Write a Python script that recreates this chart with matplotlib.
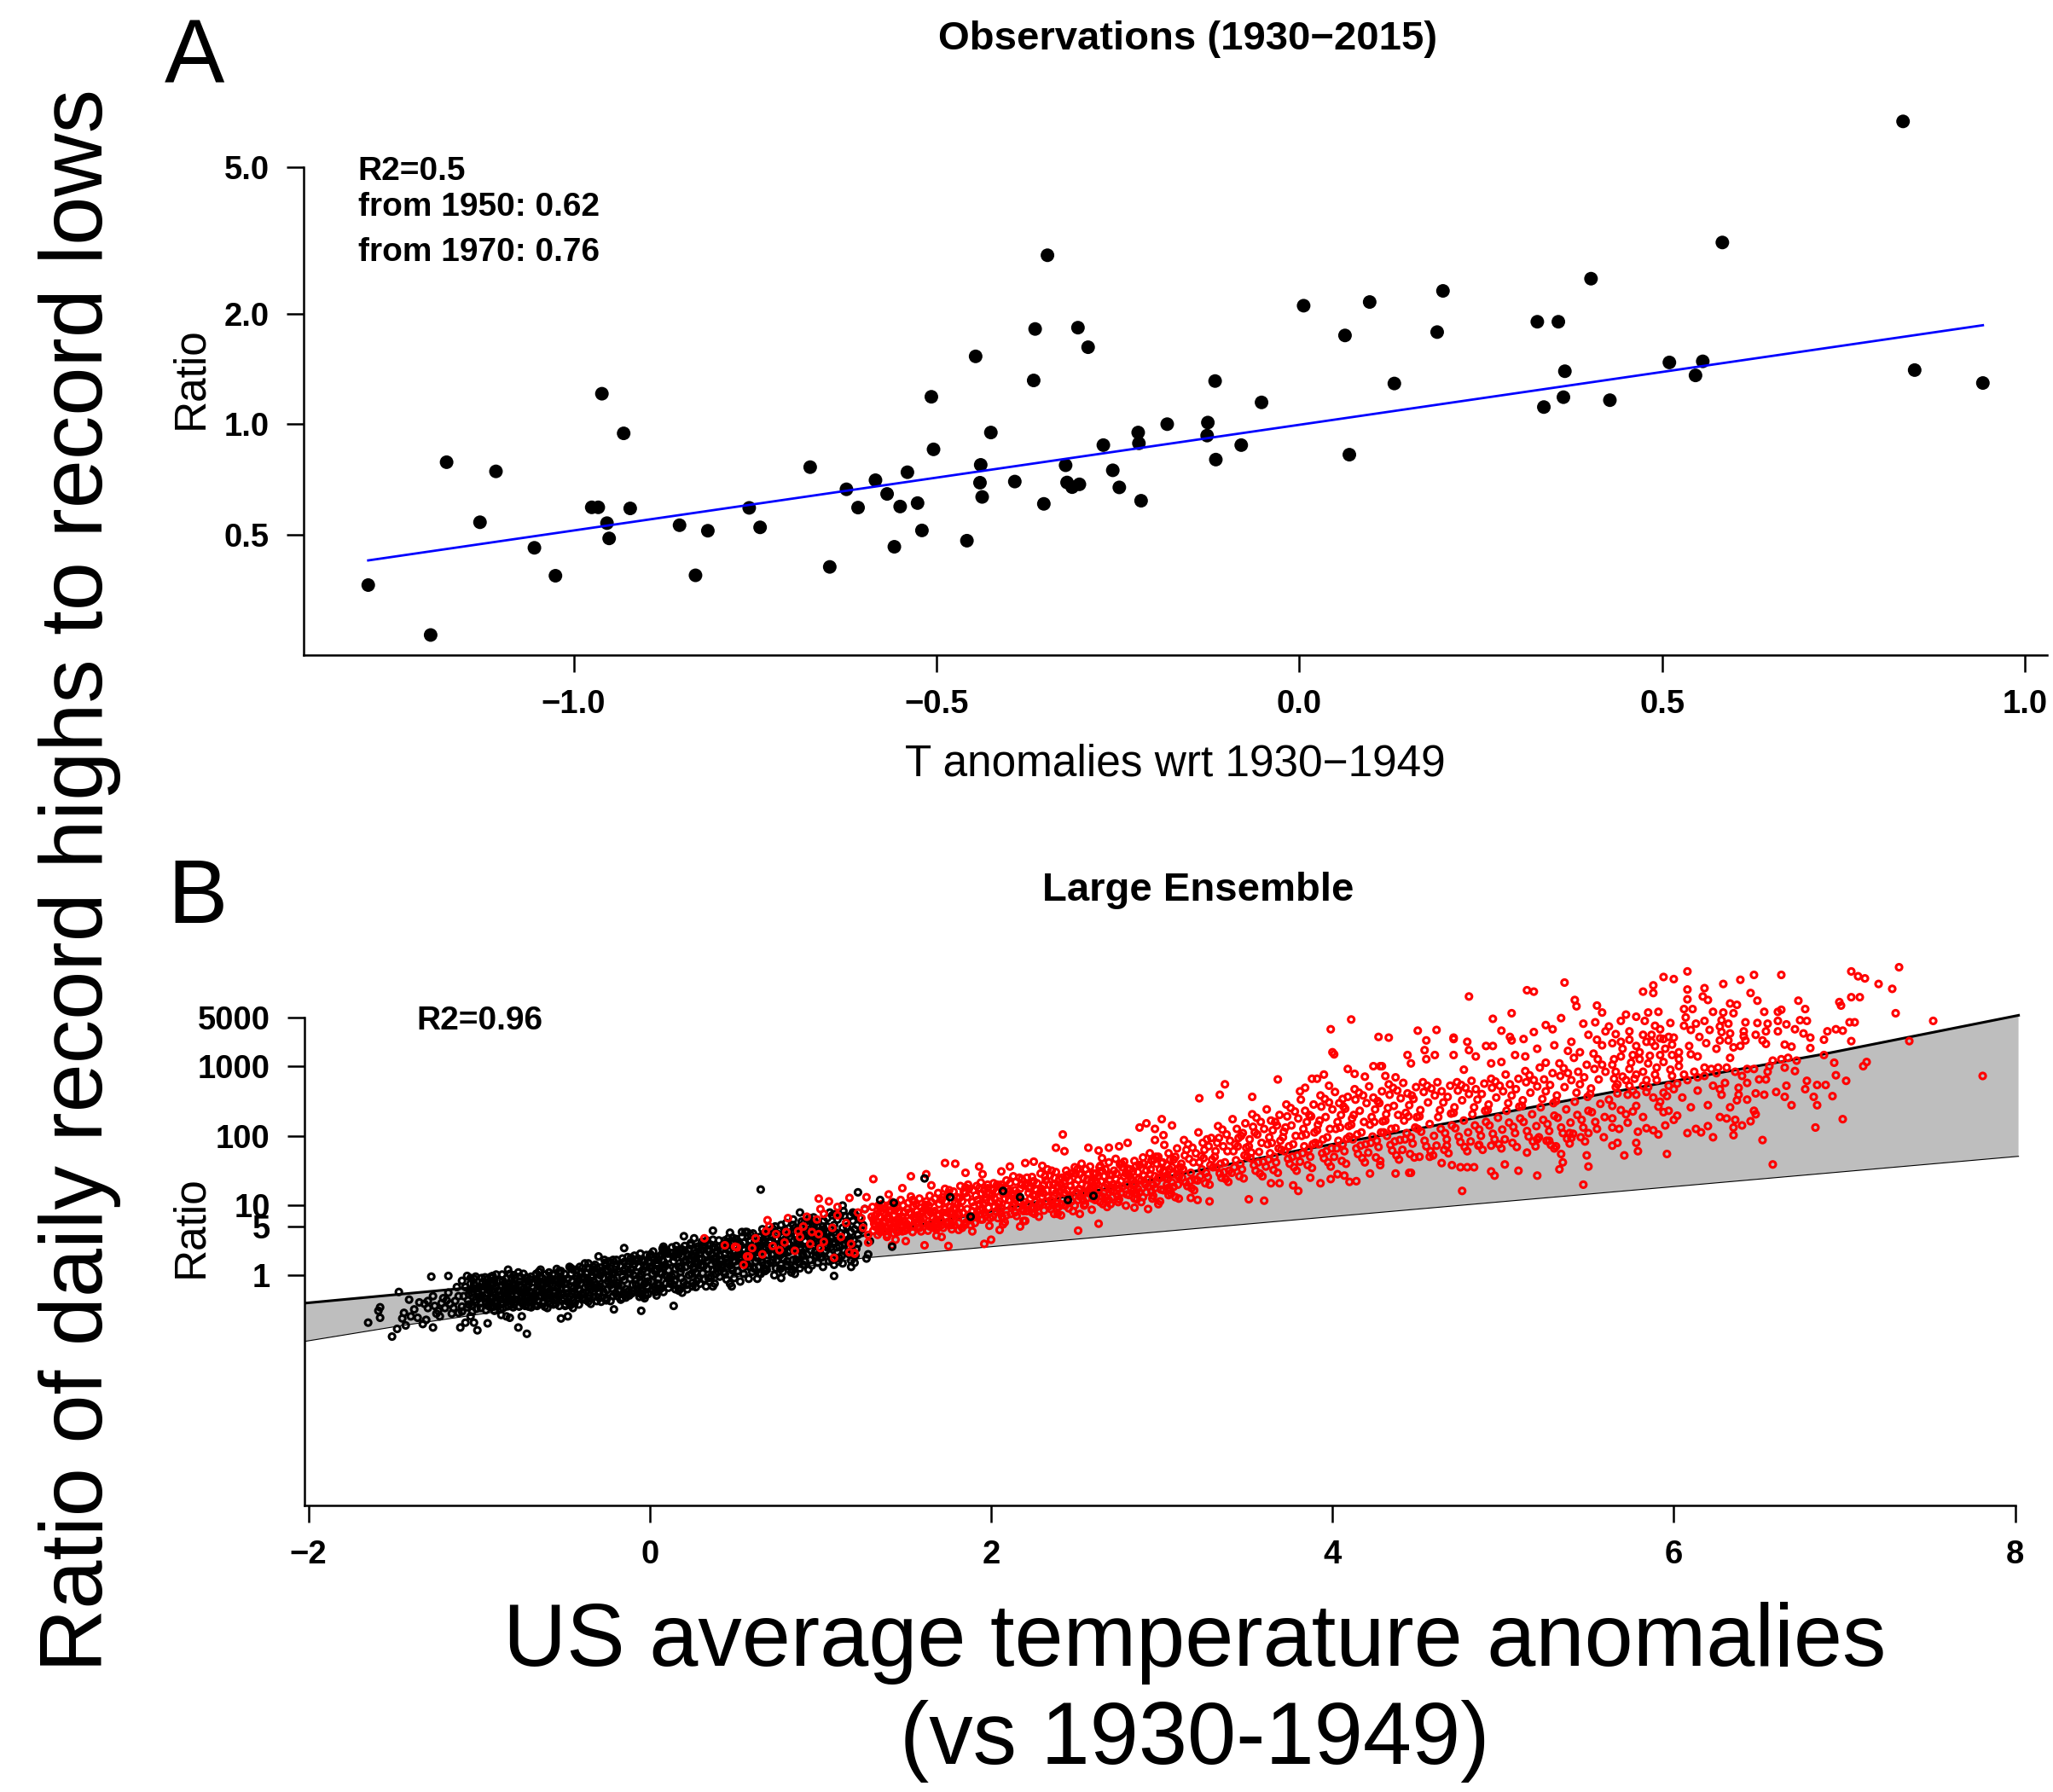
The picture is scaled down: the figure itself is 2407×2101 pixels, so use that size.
import numpy as np
import matplotlib
matplotlib.use("Agg")
import matplotlib.pyplot as plt
from matplotlib.ticker import NullLocator

plt.rcParams['font.family'] = ['Liberation Sans', 'DejaVu Sans']

W, H, DPI = 2407, 2101, 100

# ======================= Panel A : observations =======================
obs_anomaly = [-1.283, -1.197, -1.175, -1.107, -1.129, -1.054, -1.025, -0.961, -0.931, -0.975,
               -0.966, -0.954, -0.951, -0.922, -0.854, -0.815, -0.832, -0.758, -0.743, -0.674,
               -0.647, -0.624, -0.608, -0.584, -0.568, -0.550, -0.558, -0.540, -0.526, -0.520,
               -0.507, -0.504, -0.458, -0.446, -0.439, -0.440, -0.437, -0.425, -0.392, -0.366,
               -0.364, -0.347, -0.352, -0.322, -0.320, -0.313, -0.303, -0.305, -0.291, -0.270,
               -0.257, -0.248, -0.222, -0.221, -0.218, -0.182, -0.126, -0.127, -0.116, -0.115,
               -0.080, -0.052, 0.006, 0.063, 0.069, 0.097, 0.131, 0.198, 0.190, 0.328,
               0.357, 0.337, 0.364, 0.366, 0.402, 0.428, 0.510, 0.556, 0.546, 0.583,
               0.832, 0.848, 0.942]
obs_ratio = [0.365, 0.267, 0.788, 0.744, 0.541, 0.461, 0.387, 1.21, 0.944, 0.594,
             0.594, 0.538, 0.489, 0.590, 0.531, 0.513, 0.388, 0.592, 0.524, 0.764,
             0.409, 0.665, 0.593, 0.704, 0.646, 0.597, 0.464, 0.740, 0.610, 0.514,
             1.187, 0.854, 0.482, 1.529, 0.775, 0.693, 0.634, 0.949, 0.698, 1.315,
             1.815, 2.88, 0.607, 0.773, 0.694, 0.674, 0.686, 1.83, 1.619, 0.877,
             0.749, 0.673, 0.949, 0.887, 0.619, 1.0, 1.01, 0.931, 1.31, 0.801,
             0.877, 1.146, 2.10, 1.743, 0.826, 2.149, 1.29, 2.304, 1.78, 1.899,
             1.899, 1.113, 1.184, 1.393, 2.487, 1.162, 1.472, 1.482, 1.357, 3.12,
             6.66, 1.403, 1.294]
obs_fit_anomaly = [-1.283, 0.942]
obs_fit_ratio = [0.426, 1.858]
obs_xticks = [-1.0, -0.5, 0.0, 0.5, 1.0]
obs_xticklabels = ["\u22121.0", "\u22120.5", "0.0", "0.5", "1.0"]
obs_yticks = [0.5, 1.0, 2.0, 5.0]
obs_yticklabels = ["0.5", "1.0", "2.0", "5.0"]

# ======================= Panel B : large ensemble =======================
band_upper_anomaly = [-2.02, -1.06, 0.0, 1.0, 2.0, 3.0, 3.82, 4.54, 5.62, 6.87, 8.02]
band_upper_ratio = [0.398, 0.661, 1.26, 2.82, 8.32, 25.1, 63.1, 132, 417, 1479, 5370]
band_lower_anomaly = [-2.02, -1.48, 1.25, 3.07, 5.62, 8.02]
band_lower_ratio = [0.1125, 0.185, 1.762, 4.385, 15.5, 50.9]
ens_xticks = [-2, 0, 2, 4, 6, 8]
ens_xticklabels = ["\u22122", "0", "2", "4", "6", "8"]
ens_yticks = [1, 5, 10, 100, 1000, 5000]
ens_yticklabels = ["1", "5", "10", "100", "1000", "5000"]

# (temperature anomaly, log10 of ratio)
hist_points = [
    (-1.65,-0.68),(-1.58,-0.46),(-1.58,-0.61),(-1.59,-0.51),(-1.51,-0.88),(-1.48,-0.77),(-1.47,-0.24),
    (-1.45,-0.62),(-1.44,-0.54),(-1.43,-0.72),(-1.41,-0.35),(-1.40,-0.59),(-1.38,-0.49),(-1.36,-0.61),
    (-1.35,-0.39),(-1.33,-0.70),(-1.32,-0.41),(-1.31,-0.64),(-1.30,-0.37),(-1.28,-0.02),(-1.27,-0.75),
    (-1.26,-0.44),(-1.24,-0.51),(-1.23,-0.59),(-1.21,-0.33),(-1.20,-0.47),(-1.18,-0.01),(-1.17,-0.41),
    (-1.16,-0.55),(-1.14,-0.37),(-1.13,-0.17),(-1.12,-0.54),(-1.11,-0.75),(-1.10,-0.45),(-1.08,-0.68),
    (-1.07,-0.01),(-1.05,-0.12),(-1.05,-0.59),(-1.03,-0.68),(-1.02,-0.02),(-1.01,-0.79),(-0.95,-0.69),
    (-0.93,-0.02),(-0.91,-0.51),(-0.90,0.01),(-0.87,-0.57),(-0.86,-0.08),(-0.84,-0.59),(-0.83,0.08),
    (-0.82,-0.61),(-0.77,-0.75),(-0.75,-0.59),(-0.74,0.02),(-0.72,-0.84),(-0.64,0.08),(-0.60,-0.47),
    (-0.53,0.06),(-0.52,-0.62),(-0.48,-0.59),(-0.47,0.12),(-0.45,-0.47),(-0.38,0.17),(-0.30,0.27),
    (-0.21,-0.49),(-0.15,0.39),(-0.05,-0.51),(0.08,0.41),(0.14,-0.44),(0.20,0.56),(0.26,0.53),
    (0.37,0.64),(0.48,-0.16),(0.47,0.61),
    (-1.22,-0.40),(-1.19,-0.36),(-1.15,-0.47),(-1.12,-0.30),(-1.18,-0.25),(-1.10,-0.52),(-1.25,-0.55),
    (-1.30,-0.47),(-1.27,-0.30),
    (0.65,1.23),(0.77,-0.04),(0.85,0.02),(1.08,-0.01),(1.18,0.12),(1.20,0.18),(1.22,1.19),(1.13,1.00),
    (0.88,0.90),(1.42,0.41),(1.35,1.08),(1.43,1.04),(1.61,1.39),(1.76,1.12),(1.88,0.84),(2.07,1.21),
    (2.17,1.12),(2.45,1.08),(2.60,1.14),
    (-1.09,-0.30),(-1.03,-0.12),(-1.07,-0.46),(-1.01,-0.23),(-1.05,-0.04),(-1.08,-0.17),(-1.02,-0.39),
    (-1.06,-0.27),(-1.04,-0.52),(-1.00,-0.33),(-1.10,-0.08),(-1.035,-0.19),(-1.065,-0.36),
    (-0.98,-0.21),(-0.94,-0.41),(-0.91,-0.07),(-0.97,-0.33),(-0.93,-0.14),(-0.99,-0.47),(-0.95,-0.26),
    (-0.92,-0.01),(-0.96,-0.11),(-0.90,-0.37),(-0.985,-0.29),(-0.945,-0.18),(-0.915,-0.45),
    (-0.88,-0.35),(-0.84,-0.05),(-0.81,-0.27),(-0.87,-0.15),(-0.83,-0.44),(-0.89,-0.22),(-0.85,-0.31),
    (-0.82,0.02),(-0.86,-0.40),(-0.80,-0.12),(-0.875,-0.49),(-0.835,-0.19),(-0.805,-0.36),
    (-0.79,-0.14),(-0.75,-0.38),(-0.72,-0.03),(-0.78,-0.28),(-0.74,-0.20),(-0.71,-0.45),(-0.77,0.04),
    (-0.73,-0.33),(-0.76,-0.09),(-0.70,-0.24),(-0.795,-0.42),(-0.755,-0.17),(-0.715,-0.30),
    (-0.69,-0.25),(-0.65,0.05),(-0.62,-0.38),(-0.68,-0.10),(-0.64,-0.30),(-0.61,-0.18),(-0.67,-0.43),
    (-0.63,-0.04),(-0.66,-0.21),(-0.60,-0.34),(-0.695,-0.02),(-0.655,-0.14),(-0.615,-0.45),
    (-0.59,-0.08),(-0.55,-0.32),(-0.52,0.06),(-0.58,-0.40),(-0.54,-0.17),(-0.51,-0.26),(-0.57,0.01),
    (-0.53,-0.44),(-0.56,-0.22),(-0.50,-0.12),(-0.595,-0.29),(-0.545,0.09),(-0.515,-0.36),
    (-0.49,-0.19),(-0.45,0.08),(-0.42,-0.33),(-0.48,-0.05),(-0.44,-0.25),(-0.41,0.12),(-0.47,-0.39),
    (-0.43,-0.13),(-0.46,0.02),(-0.40,-0.28),(-0.495,-0.42),(-0.455,-0.09),(-0.415,-0.20),
    (-0.39,-0.02),(-0.35,-0.29),(-0.32,0.15),(-0.38,-0.18),(-0.34,0.06),(-0.31,-0.37),(-0.37,-0.10),
    (-0.33,-0.23),(-0.36,0.17),(-0.30,-0.05),(-0.395,-0.33),(-0.355,0.10),(-0.315,-0.14),(-0.345,-0.41),
    (-0.29,0.11),(-0.25,-0.21),(-0.22,0.02),(-0.28,-0.32),(-0.24,0.20),(-0.21,-0.12),(-0.27,-0.04),
    (-0.23,-0.37),(-0.26,0.15),(-0.20,-0.26),(-0.295,-0.16),(-0.255,0.06),(-0.215,0.22),(-0.245,-0.09),
    (-0.19,-0.11),(-0.15,0.19),(-0.12,-0.29),(-0.18,0.05),(-0.14,-0.20),(-0.11,0.25),(-0.17,-0.35),
    (-0.13,0.12),(-0.16,-0.02),(-0.10,-0.14),(-0.195,0.22),(-0.155,-0.26),(-0.115,0.03),(-0.145,0.09),
    (-0.09,0.16),(-0.05,-0.18),(-0.02,0.29),(-0.08,-0.06),(-0.04,0.08),(-0.01,-0.27),(-0.07,0.24),
    (-0.03,-0.12),(-0.06,-0.31),(0.00,0.12),(-0.095,0.00),(-0.055,0.31),(-0.015,-0.03),(-0.045,-0.22),
    (0.01,-0.09),(0.05,0.22),(0.08,-0.24),(0.02,0.34),(0.06,0.04),(0.09,0.15),(0.03,-0.17),
    (0.07,0.30),(0.04,-0.29),(0.10,-0.02),(0.005,0.10),(0.045,-0.12),(0.085,0.36),(0.055,0.27),
    (0.11,0.07),(0.15,-0.20),(0.18,0.36),(0.12,-0.08),(0.16,0.25),(0.19,-0.25),(0.13,0.40),
    (0.17,0.12),(0.14,-0.14),(0.20,0.19),(0.105,0.31),(0.145,0.01),(0.185,-0.04),(0.155,0.42),
    (0.21,0.22),(0.25,-0.11),(0.28,0.41),(0.22,-0.20),(0.26,0.09),(0.29,0.31),(0.23,0.00),
    (0.27,-0.17),(0.24,0.46),(0.30,0.14),(0.205,0.35),(0.245,0.28),(0.285,-0.05),(0.265,0.19),
    (0.31,0.03),(0.35,0.36),(0.38,-0.12),(0.32,0.47),(0.36,0.15),(0.39,0.26),(0.33,-0.16),
    (0.37,0.51),(0.34,0.09),(0.40,0.40),(0.305,0.24),(0.345,-0.04),(0.385,0.19),(0.365,0.31),
    (0.41,0.29),(0.45,-0.06),(0.48,0.45),(0.42,0.11),(0.46,0.53),(0.49,0.20),(0.43,0.38),
    (0.47,-0.12),(0.44,0.02),(0.50,0.33),(0.405,0.50),(0.445,0.24),(0.485,0.07),(0.465,0.43),
    (0.51,0.14),(0.55,0.47),(0.58,-0.05),(0.52,0.36),(0.56,0.21),(0.59,0.58),(0.53,-0.09),
    (0.57,0.30),(0.54,0.62),(0.60,0.05),(0.505,0.52),(0.545,0.10),(0.585,0.41),(0.565,0.26),
    (0.61,0.40),(0.65,0.02),(0.68,0.55),(0.62,0.20),(0.66,0.66),(0.69,0.29),(0.63,-0.05),
    (0.67,0.46),(0.64,0.12),(0.70,0.36),(0.605,0.60),(0.645,0.33),(0.685,0.08),(0.665,0.51),
    (0.71,0.18),(0.75,0.52),(0.78,0.05),(0.72,0.67),(0.76,0.28),(0.79,0.42),(0.73,0.00),
    (0.77,0.72),(0.74,0.36),(0.80,0.13),(0.705,0.47),(0.745,0.60),(0.785,0.24),(0.765,0.09),
    (0.81,0.33),(0.85,0.68),(0.88,0.10),(0.82,0.55),(0.86,0.22),(0.89,0.77),(0.83,0.04),
    (0.87,0.45),(0.84,0.80),(0.90,0.28),(0.805,0.15),(0.845,0.39),(0.885,0.60),(0.865,0.50),
    (0.91,0.49),(0.95,0.14),(0.98,0.70),(0.92,0.30),(0.96,0.83),(0.99,0.40),(0.93,0.08),
    (0.97,0.58),(0.94,0.22),(1.00,0.64),(0.905,0.75),(0.945,0.36),(0.985,0.18),(0.965,0.52),
    (1.01,0.26),(1.05,0.61),(1.08,0.15),(1.02,0.78),(1.06,0.40),(1.09,0.88),(1.03,0.52),
    (1.07,0.22),(1.04,0.70),(1.10,0.33),(1.015,0.12),(1.055,0.90),(1.085,0.47),
    (1.11,0.42),(1.15,0.75),(1.18,0.21),(1.12,0.60),(1.16,0.32),(1.19,0.90),(1.13,0.17),
    (1.17,0.52),(1.14,0.85),(1.20,0.66),(1.125,0.28),
    (1.21,0.38),(1.25,0.72),(1.28,0.30),(1.22,0.58),(1.26,0.95),(1.29,0.49),(1.23,0.83),(1.27,0.24),
    # inner part of the dense core
    (-0.97,-0.16),(-0.93,-0.30),(-0.99,-0.40),(-0.95,-0.06),(-0.91,-0.24),(-0.96,-0.50),
    (-0.87,-0.28),(-0.83,-0.12),(-0.89,-0.45),(-0.85,-0.20),(-0.81,-0.04),(-0.84,-0.38),
    (-0.77,-0.22),(-0.73,-0.44),(-0.79,-0.04),(-0.75,-0.31),(-0.71,-0.13),(-0.76,-0.37),
    (-0.67,-0.32),(-0.63,-0.12),(-0.69,-0.39),(-0.65,-0.24),(-0.61,0.01),(-0.66,-0.07),
    (-0.57,-0.15),(-0.53,-0.30),(-0.59,0.04),(-0.55,-0.41),(-0.51,-0.05),(-0.56,-0.26),
    (-0.47,-0.30),(-0.43,-0.02),(-0.49,-0.12),(-0.45,-0.36),(-0.41,-0.22),(-0.46,0.10),
    (-0.37,0.02),(-0.33,-0.31),(-0.39,-0.25),(-0.35,-0.08),(-0.31,0.10),(-0.36,-0.38),
    (-0.27,-0.24),(-0.23,0.10),(-0.29,0.00),(-0.25,-0.33),(-0.21,-0.06),(-0.26,0.18),
    (-0.17,0.14),(-0.13,-0.24),(-0.19,-0.30),(-0.15,-0.07),(-0.11,0.08),(-0.16,0.24),
    (-0.07,-0.20),(-0.03,0.20),(-0.09,0.28),(-0.05,0.02),(-0.01,-0.09),(-0.06,-0.26),
    (0.03,0.06),(0.07,-0.18),(0.01,0.25),(0.05,-0.05),(0.09,0.32),(0.04,0.17),
    (0.13,-0.02),(0.17,0.30),(0.11,-0.18),(0.15,0.09),(0.19,0.37),(0.14,0.20),
    (0.23,0.38),(0.27,0.04),(0.21,0.12),(0.25,-0.16),(0.29,0.24),(0.24,0.43),
    (0.33,0.30),(0.37,0.08),(0.31,0.42),(0.35,-0.09),(0.39,0.34),(0.34,0.21),
    (0.43,0.15),(0.47,0.38),(0.41,-0.02),(0.45,0.47),(0.49,0.27),(0.44,0.31),
    (0.53,0.44),(0.57,0.16),(0.51,0.28),(0.55,0.02),(0.59,0.50),(0.54,0.55),
    (0.63,0.25),(0.67,0.60),(0.61,0.10),(0.65,0.42),(0.69,0.16),(0.64,0.48),
    (0.73,0.40),(0.77,0.15),(0.71,0.58),(0.75,0.32),(0.79,0.65),(0.74,0.10),
    (0.83,0.62),(0.87,0.28),(0.81,0.45),(0.85,0.12),(0.89,0.55),(0.84,0.72),
    (0.93,0.42),(0.97,0.76),(0.91,0.20),(0.95,0.55),(0.99,0.30),(0.94,0.66),
    (1.03,0.35),(1.07,0.68),(1.01,0.48),(1.05,0.20),(1.09,0.58),(1.04,0.82),
    (1.13,0.68),(1.17,0.40),(1.11,0.25),(1.15,0.58),(1.19,0.78),(1.14,0.46),
    (-1.02,-0.35),(-0.98,-0.10),(-1.00,-0.18),(-0.96,-0.38),(-1.04,-0.44),
    (-0.92,-0.33),(-0.88,-0.08),(-0.90,-0.17),(-0.86,-0.47),(-0.94,-0.22),
    (-0.82,-0.23),(-0.78,-0.35),(-0.80,-0.46),(-0.76,-0.02),(-0.84,-0.27),
    (-0.72,-0.17),(-0.68,-0.34),(-0.70,-0.06),(-0.66,-0.44),(-0.74,-0.26),
    (-0.62,-0.27),(-0.58,-0.05),(-0.60,-0.20),(-0.56,-0.36),(-0.64,-0.14),
    (-0.52,-0.20),(-0.48,-0.38),(-0.50,0.02),(-0.46,-0.16),(-0.54,-0.09),
    (-0.42,-0.08),(-0.38,-0.35),(-0.40,0.05),(-0.36,-0.16),(-0.44,-0.40),
    (-0.32,-0.18),(-0.28,0.06),(-0.30,-0.32),(-0.26,-0.12),(-0.34,0.00),
    (-0.22,-0.19),(-0.18,-0.22),(-0.20,0.12),(-0.16,-0.33),(-0.24,-0.02),
    (-0.12,0.04),(-0.08,-0.13),(-0.10,0.20),(-0.06,-0.02),(-0.14,-0.32),
    (-0.02,0.12),(0.02,-0.21),(0.00,0.28),(0.04,0.09),(-0.04,-0.30),
    (0.08,0.20),(0.12,-0.12),(0.10,0.35),(0.14,0.27),(0.06,-0.20),
    (0.18,0.05),(0.22,0.30),(0.20,-0.10),(0.24,0.15),(0.16,0.36),
    (0.28,0.18),(0.32,-0.06),(0.30,0.37),(0.34,0.45),(0.26,0.28),
    (0.38,0.40),(0.42,0.22),(0.40,0.05),(0.44,0.50),(0.36,-0.02),
    (0.48,0.10),(0.52,0.48),(0.50,0.20),(0.54,0.30),(0.46,0.36),
    (0.58,0.35),(0.62,0.54),(0.60,0.26),(0.64,0.03),(0.56,0.62),
    (0.68,0.40),(0.72,0.22),(0.70,0.62),(0.74,0.52),(0.66,0.18),
    (0.78,0.55),(0.82,0.35),(0.80,0.75),(0.84,0.22),(0.76,0.42),
    (0.88,0.40),(0.92,0.62),(0.90,0.15),(0.94,0.78),(0.86,0.58),
    (0.98,0.50),(1.02,0.66),(1.00,0.25),(1.04,0.40),(0.96,0.70),
    (1.08,0.72),(1.12,0.50),(1.10,0.80),(1.14,0.35),(1.06,0.55),
    (1.18,0.62),(1.22,0.45),(1.20,0.88),(1.24,0.65),(1.16,0.48),
    (-1.045,-0.25),(-1.015,-0.48),(-0.985,-0.04),(-1.025,-0.15),(-0.995,-0.31),
    (-0.945,-0.44),(-0.915,-0.12),(-0.885,-0.30),(-0.925,-0.04),(-0.895,-0.40),
    (-0.845,-0.14),(-0.815,-0.42),(-0.785,-0.18),(-0.825,-0.33),(-0.795,0.00),
    (-0.745,-0.41),(-0.715,-0.08),(-0.685,-0.29),(-0.725,-0.22),(-0.695,-0.46),
    (-0.645,-0.02),(-0.615,-0.31),(-0.585,-0.12),(-0.625,-0.40),(-0.595,-0.24),
    (-0.545,-0.34),(-0.515,-0.10),(-0.485,-0.26),(-0.525,0.03),(-0.495,-0.44),
    (-0.445,-0.18),(-0.415,-0.42),(-0.385,-0.06),(-0.425,-0.28),(-0.395,0.10),
    (-0.345,-0.20),(-0.315,0.03),(-0.285,-0.38),(-0.325,-0.10),(-0.295,-0.24),
    (-0.245,0.08),(-0.215,-0.30),(-0.185,-0.15),(-0.225,-0.04),(-0.195,0.16),
    (-0.145,-0.28),(-0.115,-0.05),(-0.085,0.22),(-0.125,0.16),(-0.095,-0.22),
    (-0.045,0.22),(-0.015,-0.16),(0.015,0.02),(-0.025,-0.28),(0.005,0.30),
    (0.055,-0.14),(0.085,0.12),(0.115,-0.04),(0.075,0.38),(0.105,0.24),
    (0.155,0.32),(0.185,0.10),(0.215,-0.14),(0.175,-0.20),(0.205,0.42),
    (0.255,0.12),(0.285,0.38),(0.315,0.13),(0.275,-0.08),(0.305,0.48),
    (0.355,0.44),(0.385,0.02),(0.415,0.36),(0.375,0.24),(0.405,0.16),
    (0.455,0.18),(0.485,0.54),(0.515,0.06),(0.475,0.28),(0.505,0.40),
    (0.555,0.36),(0.585,0.12),(0.615,0.48),(0.575,0.56),(0.605,0.30),
    (0.655,0.22),(0.685,0.64),(0.715,0.30),(0.675,0.06),(0.705,0.50),
    (0.755,0.64),(0.785,0.34),(0.815,0.60),(0.775,0.46),(0.805,0.20),
    (0.855,0.36),(0.885,0.70),(0.915,0.40),(0.875,0.18),(0.905,0.58),
    (0.955,0.74),(0.985,0.46),(1.015,0.70),(0.975,0.28),(1.005,0.55),
    (1.055,0.30),(1.085,0.62),(1.115,0.86),(1.075,0.45),(1.105,0.20),
    (1.155,0.70),(1.185,0.36),(1.215,0.72),(1.175,0.85),(1.205,0.28),
    (-1.055,-0.21),(-1.005,-0.27),(-1.03,-0.05),(-1.06,-0.42),
    (-0.955,-0.17),(-0.905,-0.28),(-0.93,-0.46),(-0.965,-0.03),
    (-0.855,-0.24),(-0.805,-0.20),(-0.83,-0.36),(-0.865,0.01),
    (-0.755,-0.25),(-0.705,-0.36),(-0.73,-0.10),(-0.765,-0.45),
    (-0.655,-0.37),(-0.605,-0.10),(-0.63,-0.22),(-0.665,0.02),
    (-0.555,-0.06),(-0.505,-0.33),(-0.53,-0.12),(-0.565,-0.42),
    (-0.455,-0.27),(-0.405,-0.12),(-0.43,0.08),(-0.465,-0.43),
    (-0.355,-0.33),(-0.305,-0.18),(-0.33,0.12),(-0.365,-0.05),
    (-0.255,-0.36),(-0.205,0.04),(-0.23,-0.14),(-0.265,0.22),
    (-0.155,0.06),(-0.105,-0.26),(-0.13,0.26),(-0.165,-0.15),
    (-0.055,-0.10),(-0.005,0.20),(-0.03,-0.33),(-0.065,0.12),
    (0.045,0.14),(0.095,-0.12),(0.07,0.02),(0.035,-0.24),
    (0.145,-0.08),(0.195,0.26),(0.17,-0.22),(0.135,0.32),
    (0.245,0.02),(0.295,-0.12),(0.27,0.32),(0.235,0.24),
    (0.345,0.34),(0.395,0.10),(0.37,-0.16),(0.335,0.50),
    (0.445,0.44),(0.495,-0.04),(0.47,0.14),(0.435,0.05),
    (0.545,0.18),(0.595,0.40),(0.57,0.62),(0.535,0.26),
    (0.645,0.55),(0.695,0.42),(0.67,0.10),(0.635,0.38),
    (0.745,0.22),(0.795,0.52),(0.77,0.30),(0.735,0.70),
    (0.845,0.50),(0.895,0.30),(0.87,0.64),(0.835,0.08),
    (0.945,0.50),(0.995,0.62),(0.97,0.34),(0.935,0.82),
    (1.045,0.50),(1.095,0.40),(1.07,0.86),(1.035,0.62),
    (1.145,0.58),(1.195,0.50),(1.17,0.30),(1.135,0.92),
]

fut_points = [
    # mixing zone
    (0.62,0.53),(0.58,0.27),(0.74,0.59),(0.81,0.82),(0.92,0.84),(0.87,0.63),(0.99,0.59),(1.02,0.88),
    (1.10,0.86),(1.07,0.68),(1.17,0.33),(1.25,0.68),(1.22,0.90),(0.94,0.45),(0.79,0.47),(0.68,0.63),
    (0.60,0.39),(0.55,0.15),(1.28,0.47),(1.30,0.84),(1.35,0.72),(1.39,0.55),(1.45,0.80),
    (0.32,0.53),(0.50,0.41),(0.44,0.43),(0.57,0.27),(0.51,0.40),
    (0.66,0.30),(0.72,0.42),(0.85,0.35),(0.95,0.62),(1.02,0.48),(1.12,0.55),(0.90,0.70),(1.15,0.75),
    (1.08,0.25),(0.80,0.62),(0.70,0.70),(0.98,0.80),(1.18,0.45),(1.24,0.82),(1.28,0.58),(1.10,0.98),
    (1.00,0.95),(1.26,0.95),(0.88,0.55),(0.76,0.36),
    # upper outliers (x 0.7 - 3.1)
    (0.69,0.79),(0.99,1.10),(1.05,1.06),(1.17,1.11),(1.27,1.12),(1.31,1.38),(1.40,1.16),(1.48,1.25),
    (1.53,1.42),(1.62,1.45),(1.65,1.29),(1.73,1.61),(1.79,1.60),(1.85,1.47),(1.93,1.56),(1.95,1.45),
    (2.06,1.49),(2.11,1.56),(2.20,1.61),(2.25,1.63),(2.30,1.57),(2.38,1.83),(2.42,2.02),(2.43,1.78),
    (2.57,1.83),(2.63,1.79),(2.65,1.68),(2.69,1.83),(2.75,1.85),(2.80,1.90),(2.87,2.12),(2.91,2.18),
    (2.96,2.10),(3.00,2.24),(3.01,2.01),(2.96,1.94),(3.06,2.15),
    # lower outliers (x 1.0 - 3.0)
    (1.20,0.31),(1.42,0.43),(1.61,0.43),(1.75,0.42),(1.68,0.57),(1.71,0.55),(1.96,0.45),(2.00,0.51),
    (1.81,0.65),(2.51,0.64),(2.63,0.74),(2.20,0.78),(2.37,0.88),(2.41,0.86),(2.52,0.88),(2.84,0.97),
    (2.92,0.95),(2.70,1.02),(2.98,1.02),(2.17,0.70),(2.05,0.65),(1.89,0.63),(1.50,0.49),(1.44,0.51),
    (1.00,0.39),(1.20,0.32),
    # dense band x 1.3 - 3.1
    (1.31,0.80),(1.35,0.62),(1.38,0.95),(1.32,0.70),(1.36,1.02),(1.39,0.58),(1.33,0.88),(1.37,0.75),
    (1.34,0.66),(1.40,0.92),(1.305,0.98),(1.345,0.84),(1.385,0.69),
    (1.41,0.72),(1.45,0.97),(1.48,0.63),(1.42,1.05),(1.46,0.81),(1.49,0.90),(1.43,0.60),(1.47,1.08),
    (1.44,0.77),(1.50,0.68),(1.415,0.93),(1.455,0.66),(1.485,1.00),
    (1.51,0.95),(1.55,0.70),(1.58,1.10),(1.52,0.78),(1.56,1.02),(1.59,0.63),(1.53,1.13),(1.57,0.86),
    (1.54,0.62),(1.60,0.92),(1.505,0.74),(1.545,0.99),(1.585,0.81),
    (1.61,0.74),(1.65,1.05),(1.68,0.66),(1.62,0.96),(1.66,0.82),(1.69,1.18),(1.63,0.64),(1.67,0.92),
    (1.64,1.14),(1.70,0.78),(1.615,1.01),(1.655,0.70),(1.695,0.87),
    (1.71,1.08),(1.75,0.77),(1.78,1.20),(1.72,0.68),(1.76,0.98),(1.79,0.85),(1.73,1.24),(1.77,0.66),
    (1.74,0.90),(1.80,1.12),(1.705,0.80),(1.745,1.15),(1.785,0.72),
    (1.81,0.88),(1.85,1.18),(1.88,0.72),(1.82,1.28),(1.86,0.95),(1.89,1.05),(1.83,0.68),(1.87,1.24),
    (1.84,0.81),(1.90,0.99),(1.815,1.11),(1.855,0.76),(1.895,1.22),
    (1.91,1.14),(1.95,0.80),(1.98,1.30),(1.92,0.92),(1.96,1.22),(1.99,0.71),(1.93,1.02),(1.97,0.86),
    (1.94,1.33),(2.00,1.07),(1.905,0.75),(1.945,1.17),(1.985,0.97),
    (2.01,0.84),(2.05,1.27),(2.08,0.76),(2.02,1.10),(2.06,0.96),(2.09,1.36),(2.03,1.20),(2.07,0.73),
    (2.04,1.03),(2.10,1.15),(2.015,1.32),(2.055,0.89),(2.095,1.00),
    (2.11,1.21),(2.15,0.85),(2.18,1.38),(2.12,0.97),(2.16,1.13),(2.19,0.78),(2.13,1.42),(2.17,1.05),
    (2.14,0.90),(2.20,1.29),(2.105,1.08),(2.145,1.34),(2.185,0.95),
    (2.21,0.92),(2.25,1.35),(2.28,0.84),(2.22,1.18),(2.26,1.05),(2.29,1.46),(2.23,1.27),(2.27,0.98),
    (2.24,1.41),(2.30,1.12),(2.215,1.02),(2.255,0.88),(2.295,1.24),
    (2.31,1.30),(2.35,0.95),(2.38,1.48),(2.32,1.06),(2.36,1.22),(2.39,0.88),(2.33,1.52),(2.37,1.14),
    (2.34,0.99),(2.40,1.38),(2.305,1.18),(2.345,1.43),(2.385,1.03),
    (2.41,1.01),(2.45,1.44),(2.48,0.92),(2.42,1.25),(2.46,1.12),(2.49,1.55),(2.43,1.35),(2.47,1.06),
    (2.44,1.50),(2.50,1.19),(2.415,1.40),(2.455,0.96),(2.495,1.30),
    (2.51,1.37),(2.55,1.02),(2.58,1.56),(2.52,1.13),(2.56,1.28),(2.59,0.94),(2.53,1.60),(2.57,1.20),
    (2.54,1.07),(2.60,1.46),(2.515,1.24),(2.555,1.52),(2.595,1.10),
    (2.61,1.08),(2.65,1.50),(2.68,0.98),(2.62,1.32),(2.66,1.18),(2.69,1.62),(2.63,1.42),(2.67,1.12),
    (2.64,1.57),(2.70,1.26),(2.615,1.46),(2.655,1.02),(2.695,1.36),
    (2.71,1.44),(2.75,1.09),(2.78,1.63),(2.72,1.20),(2.76,1.35),(2.79,1.00),(2.73,1.67),(2.77,1.27),
    (2.74,1.14),(2.80,1.53),(2.715,1.31),(2.755,1.59),(2.795,1.16),
    (2.81,1.15),(2.85,1.57),(2.88,1.05),(2.82,1.39),(2.86,1.24),(2.89,1.69),(2.83,1.49),(2.87,1.19),
    (2.84,1.64),(2.90,1.33),(2.815,1.52),(2.855,1.09),(2.895,1.43),
    (2.91,1.50),(2.95,1.14),(2.98,1.70),(2.92,1.27),(2.96,1.42),(2.99,1.06),(2.93,1.75),(2.97,1.34),
    (2.94,1.20),(3.00,1.61),(2.915,1.38),(2.955,1.66),(2.995,1.23),
    (3.01,1.22),(3.05,1.66),(3.08,1.12),(3.02,1.48),(3.06,1.33),(3.09,1.82),(3.03,1.58),(3.07,1.27),
    (3.04,1.75),(3.10,1.41),(3.015,1.87),(3.055,1.17),(3.095,1.53),(3.035,1.38),
    # inner part of dense band x 1.3 - 3.1
    (1.33,0.77),(1.37,0.90),(1.31,0.64),(1.35,0.98),(1.39,0.82),
    (1.43,0.85),(1.47,0.70),(1.41,1.00),(1.45,0.62),(1.49,0.78),
    (1.53,0.88),(1.57,0.75),(1.51,0.66),(1.55,1.06),(1.59,0.97),
    (1.63,0.86),(1.67,1.10),(1.61,0.95),(1.65,0.75),(1.69,0.69),
    (1.73,0.95),(1.77,0.83),(1.71,0.72),(1.75,1.18),(1.79,1.04),
    (1.83,1.06),(1.87,0.86),(1.81,0.75),(1.85,1.26),(1.89,0.92),
    (1.93,1.25),(1.97,1.08),(1.91,0.86),(1.95,0.96),(1.99,1.18),
    (2.03,0.92),(2.07,1.17),(2.01,1.22),(2.05,1.06),(2.09,0.86),
    (2.13,1.00),(2.17,1.24),(2.11,1.32),(2.15,1.10),(2.19,0.92),
    (2.23,1.10),(2.27,1.32),(2.21,1.40),(2.25,0.97),(2.29,1.20),
    (2.33,1.22),(2.37,1.40),(2.31,0.93),(2.35,1.08),(2.39,1.28),
    (2.43,1.18),(2.47,1.46),(2.41,1.30),(2.45,1.06),(2.49,1.00),
    (2.53,1.30),(2.57,1.45),(2.51,1.08),(2.55,1.18),(2.59,1.36),
    (2.63,1.22),(2.67,1.52),(2.61,1.36),(2.65,1.13),(2.69,1.08),
    (2.73,1.38),(2.77,1.55),(2.71,1.12),(2.75,1.24),(2.79,1.46),
    (2.83,1.30),(2.87,1.58),(2.81,1.42),(2.85,1.18),(2.89,1.12),
    (2.93,1.45),(2.97,1.60),(2.91,1.19),(2.95,1.30),(2.99,1.52),
    (3.03,1.30),(3.07,1.66),(3.01,1.50),(3.05,1.22),(3.09,1.44),
    (1.32,0.85),(1.36,0.68),(1.38,0.78),(1.34,1.00),
    (1.42,0.67),(1.46,0.92),(1.48,0.84),(1.44,1.03),
    (1.52,0.90),(1.56,0.80),(1.58,0.68),(1.54,1.08),
    (1.62,1.06),(1.66,0.90),(1.68,0.80),(1.64,0.70),
    (1.72,1.12),(1.76,0.88),(1.78,0.96),(1.74,0.74),
    (1.82,0.96),(1.86,1.12),(1.88,0.80),(1.84,1.20),
    (1.92,1.08),(1.96,0.90),(1.98,1.25),(1.94,0.80),
    (2.02,0.98),(2.06,1.30),(2.08,1.10),(2.04,0.82),
    (2.12,1.15),(2.16,0.98),(2.18,1.30),(2.14,1.22),
    (2.22,1.25),(2.26,1.15),(2.28,1.02),(2.24,0.90),
    (2.32,1.36),(2.36,1.02),(2.38,1.18),(2.34,1.30),
    (2.42,1.10),(2.46,1.36),(2.48,1.22),(2.44,1.40),
    (2.52,1.45),(2.56,1.10),(2.58,1.25),(2.54,1.40),
    (2.62,1.15),(2.66,1.42),(2.68,1.30),(2.64,1.05),
    (2.72,1.50),(2.76,1.18),(2.78,1.42),(2.74,1.30),
    (2.82,1.25),(2.86,1.48),(2.88,1.36),(2.84,1.10),
    (2.92,1.58),(2.96,1.25),(2.98,1.40),(2.94,1.65),
    (3.02,1.40),(3.06,1.55),(3.08,1.70),(3.04,1.15),
    (1.315,0.74),(1.355,0.92),(1.375,0.64),(1.335,0.58),(1.395,1.00),
    (1.405,0.82),(1.435,0.93),(1.465,0.76),(1.495,0.64),(1.425,0.70),
    (1.515,1.04),(1.535,0.70),(1.565,0.92),(1.595,0.74),(1.555,0.84),
    (1.605,0.82),(1.635,1.00),(1.665,0.68),(1.695,1.02),(1.645,0.90),
    (1.715,0.90),(1.735,1.06),(1.765,0.72),(1.795,0.95),(1.755,1.22),
    (1.805,1.02),(1.835,0.90),(1.865,1.30),(1.895,0.84),(1.845,0.72),
    (1.915,1.28),(1.935,0.94),(1.965,1.12),(1.995,0.82),(1.955,1.02),
    (2.005,1.15),(2.035,1.30),(2.065,0.84),(2.095,1.24),(2.045,0.95),
    (2.115,0.88),(2.135,1.10),(2.165,1.40),(2.195,1.05),(2.155,1.18),
    (2.205,1.32),(2.235,0.96),(2.265,1.22),(2.295,1.04),(2.245,1.15),
    (2.315,1.42),(2.335,1.12),(2.365,1.30),(2.395,0.98),(2.355,1.50),
    (2.405,1.20),(2.435,1.00),(2.465,1.28),(2.495,1.46),(2.445,1.22),
    (2.505,1.52),(2.535,1.18),(2.565,1.38),(2.595,1.25),(2.545,1.00),
    (2.605,1.28),(2.635,1.55),(2.665,1.26),(2.695,1.44),(2.645,1.35),
    (2.705,1.22),(2.735,1.46),(2.765,1.60),(2.795,1.30),(2.745,1.05),
    (2.805,1.45),(2.835,1.22),(2.865,1.38),(2.895,1.60),(2.845,1.30),
    (2.905,1.30),(2.935,1.52),(2.965,1.70),(2.995,1.40),(2.945,1.10),
    (3.005,1.62),(3.035,1.25),(3.065,1.45),(3.095,1.30),(3.045,1.52),
    # upper outliers (x 3.1 - 5.6)
    (3.22,2.54),(3.37,2.74),(3.34,2.59),(3.53,2.56),(3.68,2.81),(3.99,3.53),(4.11,3.67),(4.00,3.20),
    (4.01,3.17),(4.27,3.42),(4.33,3.41),(4.50,3.51),(4.61,3.52),(4.55,3.37),(4.71,3.41),(4.80,4.00),
    (4.79,3.35),(4.94,3.68),(5.05,3.76),(4.99,3.51),(5.14,4.09),(5.18,4.07),(5.36,4.20),(5.42,3.95),
    (5.43,3.86),(5.34,3.69),(5.25,3.59),(5.47,3.61),(5.55,3.87),(5.58,3.77),(5.54,3.63),(5.18,3.49),
    (5.29,3.53),(5.12,3.39),(5.04,3.42),(4.90,3.29),(4.94,3.29),(5.13,3.14),(4.93,3.04),(4.77,2.95),
    (4.71,3.39),(4.60,3.16),(4.54,3.23),(4.44,3.16),(4.55,3.10),(4.46,3.04),(4.28,3.00),(4.29,3.00),
    (4.24,3.00),(4.09,2.96),(4.13,2.89),(4.19,2.85),(4.31,2.86),(4.37,2.84),(3.95,2.88),(3.98,2.72),
    (3.88,2.82),(3.91,2.82),(3.84,2.69),(3.81,2.64),(4.06,2.53),(5.05,3.37),(4.84,3.14),(4.80,3.23),
    (4.71,3.16),(4.99,3.06),(5.07,3.16),
    (5.20,3.25),(5.30,3.30),(5.40,3.35),(5.50,3.45),(5.45,3.20),(5.25,3.05),(5.55,3.38),(5.38,3.22),
    (5.60,3.50),(5.58,3.30),
    # lower outliers (x 3.1 - 5.6)
    (3.10,1.10),(3.17,1.11),(3.21,1.08),(3.28,1.06),(3.51,1.09),(3.60,1.07),(3.80,1.21),(3.77,1.29),
    (3.64,1.32),(3.69,1.32),(3.93,1.32),(3.87,1.40),(3.99,1.38),(4.10,1.34),(4.14,1.35),(4.03,1.45),
    (4.07,1.43),(4.22,1.46),(4.37,1.46),(4.46,1.47),(4.76,1.21),(4.95,1.43),(4.93,1.49),(5.09,1.50),
    (5.20,1.43),(5.33,1.52),(5.47,1.30),(5.50,1.56),(5.49,1.72),(5.50,2.04),(4.83,1.55),(4.79,1.55),
    (4.75,1.55),(4.70,1.58),(4.64,1.61),(4.57,1.70),(4.51,1.70),(4.45,1.47),(4.28,1.58),(4.67,1.86),
    (5.01,1.59),(5.14,1.76),(5.27,1.93),(5.31,1.85),(5.39,2.04),(5.40,1.97),(5.30,1.82),(5.34,1.74),
    (5.35,1.62),(5.20,1.95),(4.93,1.86),(4.86,1.87),
    # dense band x 3.1 - 5.6
    (3.11,1.55),(3.15,1.28),(3.18,1.83),(3.12,1.40),(3.16,1.67),(3.19,1.22),(3.13,1.94),(3.17,1.47),
    (3.14,1.33),(3.20,1.75),(3.115,1.60),(3.155,1.88),(3.195,1.37),(3.135,1.72),(3.175,1.25),
    (3.21,1.36),(3.25,1.80),(3.28,1.30),(3.22,1.62),(3.26,1.47),(3.29,1.97),(3.23,1.71),(3.27,1.41),
    (3.24,1.90),(3.30,1.55),(3.215,2.05),(3.255,1.32),(3.295,1.66),(3.235,1.52),(3.275,1.85),
    (3.31,1.70),(3.35,1.40),(3.38,2.02),(3.32,1.55),(3.36,1.85),(3.39,1.34),(3.33,2.14),(3.37,1.62),
    (3.34,1.46),(3.40,1.93),(3.315,1.78),(3.355,2.09),(3.395,1.50),(3.335,1.97),(3.375,1.38),
    (3.41,1.47),(3.45,1.97),(3.48,1.39),(3.42,1.78),(3.46,1.60),(3.49,2.18),(3.43,1.88),(3.47,1.52),
    (3.44,2.10),(3.50,1.70),(3.415,2.24),(3.455,1.42),(3.495,1.83),(3.435,1.65),(3.475,2.04),
    (3.51,1.85),(3.55,1.50),(3.58,2.20),(3.52,1.68),(3.56,2.02),(3.59,1.42),(3.53,2.31),(3.57,1.77),
    (3.54,1.58),(3.60,2.10),(3.515,1.95),(3.555,2.26),(3.595,1.63),(3.535,2.13),(3.575,1.46),
    (3.61,1.56),(3.65,2.08),(3.68,1.47),(3.62,1.88),(3.66,1.70),(3.69,2.30),(3.63,1.98),(3.67,1.62),
    (3.64,2.22),(3.70,1.80),(3.615,2.38),(3.655,1.51),(3.695,1.93),(3.635,1.75),(3.675,2.15),
    (3.71,1.98),(3.75,1.60),(3.78,2.35),(3.72,1.78),(3.76,2.15),(3.79,1.50),(3.73,2.45),(3.77,1.88),
    (3.74,1.67),(3.80,2.25),(3.715,2.06),(3.755,2.40),(3.795,1.72),(3.735,2.28),(3.775,1.55),
    (3.81,1.63),(3.85,2.20),(3.88,1.54),(3.82,2.00),(3.86,1.80),(3.89,2.45),(3.83,2.10),(3.87,1.70),
    (3.84,2.36),(3.90,1.90),(3.815,2.52),(3.855,1.58),(3.895,2.05),(3.835,1.85),(3.875,2.28),
    (3.91,2.08),(3.95,1.68),(3.98,2.48),(3.92,1.88),(3.96,2.27),(3.99,1.56),(3.93,2.58),(3.97,1.98),
    (3.94,1.75),(4.00,2.38),(3.915,2.16),(3.955,2.53),(3.995,1.82),(3.935,2.42),(3.975,1.62),
    (4.01,1.70),(4.05,2.30),(4.08,1.60),(4.02,2.10),(4.06,1.88),(4.09,2.56),(4.03,2.20),(4.07,1.78),
    (4.04,2.47),(4.10,1.99),(4.015,2.63),(4.055,1.64),(4.095,2.14),(4.035,1.93),(4.075,2.39),
    (4.11,2.16),(4.15,1.74),(4.18,2.58),(4.12,1.95),(4.16,2.36),(4.19,1.62),(4.13,2.67),(4.17,2.05),
    (4.14,1.82),(4.20,2.47),(4.115,2.25),(4.155,2.62),(4.195,1.88),(4.135,2.52),(4.175,1.68),
    (4.21,1.76),(4.25,2.38),(4.28,1.64),(4.22,2.16),(4.26,1.93),(4.29,2.64),(4.23,2.27),(4.27,1.84),
    (4.24,2.55),(4.30,2.05),(4.215,2.71),(4.255,1.69),(4.295,2.21),(4.235,1.99),(4.275,2.47),
    (4.31,2.22),(4.35,1.79),(4.38,2.65),(4.32,2.00),(4.36,2.43),(4.39,1.66),(4.33,2.74),(4.37,2.11),
    (4.34,1.87),(4.40,2.54),(4.315,2.31),(4.355,2.69),(4.395,1.94),(4.335,2.59),(4.375,1.72),
    (4.41,1.80),(4.45,2.44),(4.48,1.69),(4.42,2.22),(4.46,1.98),(4.49,2.70),(4.43,2.33),(4.47,1.89),
    (4.44,2.61),(4.50,2.10),(4.415,2.76),(4.455,1.74),(4.495,2.27),(4.435,2.04),(4.475,2.53),
    (4.51,2.28),(4.55,1.85),(4.58,2.68),(4.52,2.06),(4.56,2.48),(4.59,1.72),(4.53,2.77),(4.57,2.17),
    (4.54,1.93),(4.60,2.58),(4.515,2.37),(4.555,2.72),(4.595,2.00),(4.535,2.63),(4.575,1.78),
    (4.61,1.86),(4.65,2.48),(4.68,1.75),(4.62,2.27),(4.66,2.04),(4.69,2.72),(4.63,2.37),(4.67,1.95),
    (4.64,2.64),(4.70,2.15),(4.615,2.77),(4.655,1.80),(4.695,2.32),(4.635,2.10),(4.675,2.56),
    (4.71,2.33),(4.75,1.91),(4.78,2.69),(4.72,2.11),(4.76,2.51),(4.79,1.78),(4.73,2.77),(4.77,2.22),
    (4.74,1.99),(4.80,2.60),(4.715,2.41),(4.755,2.73),(4.795,2.05),(4.735,2.65),(4.775,1.84),
    (4.81,1.92),(4.85,2.52),(4.88,1.80),(4.82,2.31),(4.86,2.09),(4.89,2.75),(4.83,2.41),(4.87,2.00),
    (4.84,2.67),(4.90,2.20),(4.815,2.79),(4.855,1.86),(4.895,2.36),(4.835,2.15),(4.875,2.60),
    (4.91,2.37),(4.95,1.95),(4.98,2.72),(4.92,2.15),(4.96,2.55),(4.99,1.82),(4.93,2.82),(4.97,2.26),
    (4.94,2.03),(5.00,2.64),(4.915,2.45),(4.955,2.78),(4.995,2.09),(4.935,2.69),(4.975,1.88),
    (5.01,1.95),(5.05,2.58),(5.08,1.84),(5.02,2.36),(5.06,2.13),(5.09,2.82),(5.03,2.47),(5.07,2.04),
    (5.04,2.74),(5.10,2.25),(5.015,2.88),(5.055,1.90),(5.095,2.42),(5.035,2.19),(5.075,2.67),
    (5.11,2.43),(5.15,1.99),(5.18,2.80),(5.12,2.20),(5.16,2.62),(5.19,1.85),(5.13,2.93),(5.17,2.31),
    (5.14,2.07),(5.20,2.71),(5.115,2.51),(5.155,2.87),(5.195,2.14),(5.135,2.77),(5.175,1.92),
    (5.21,1.98),(5.25,2.64),(5.28,1.87),(5.22,2.41),(5.26,2.17),(5.29,2.90),(5.23,2.53),(5.27,2.07),
    (5.24,2.81),(5.30,2.29),(5.215,2.98),(5.255,1.93),(5.295,2.47),(5.235,2.23),(5.275,2.73),
    (5.31,2.50),(5.35,2.04),(5.38,2.90),(5.32,2.26),(5.36,2.70),(5.39,1.89),(5.33,3.04),(5.37,2.38),
    (5.34,2.12),(5.40,2.80),(5.315,2.58),(5.355,2.97),(5.395,2.19),(5.335,2.86),(5.375,1.96),
    (5.41,2.03),(5.45,2.74),(5.48,1.92),(5.42,2.49),(5.46,2.23),(5.49,3.02),(5.43,2.62),(5.47,2.12),
    (5.44,2.92),(5.50,2.36),(5.415,3.12),(5.455,1.98),(5.495,2.56),(5.435,2.30),(5.475,2.84),
    (5.51,2.60),(5.55,2.10),(5.58,3.02),(5.52,2.34),(5.56,2.81),(5.59,1.98),(5.53,3.18),(5.57,2.46),
    (5.54,2.20),(5.60,2.92),(5.515,2.68),(5.555,3.10),(5.595,2.27),(5.535,2.96),(5.62,2.52),
    (3.125,1.52),(3.145,1.80),(3.165,1.35),(3.185,1.62),
    (3.225,1.42),(3.245,1.68),(3.265,1.95),(3.285,1.58),
    (3.325,1.90),(3.345,1.60),(3.365,1.48),(3.385,1.78),
    (3.425,1.55),(3.445,1.85),(3.465,2.00),(3.485,1.72),
    (3.525,1.76),(3.545,2.05),(3.565,1.62),(3.585,1.90),
    (3.625,1.66),(3.645,1.90),(3.665,2.20),(3.685,1.82),
    (3.725,2.12),(3.745,1.85),(3.765,1.70),(3.785,2.00),
    (3.825,1.75),(3.845,2.02),(3.865,2.30),(3.885,1.88),
    (3.925,2.22),(3.945,1.95),(3.965,1.78),(3.985,2.10),
    (4.025,1.82),(4.045,2.12),(4.065,2.42),(4.085,1.96),
    (4.125,2.30),(4.145,2.02),(4.165,1.86),(4.185,2.20),
    (4.225,1.90),(4.245,2.20),(4.265,2.50),(4.285,2.05),
    (4.325,2.40),(4.345,2.10),(4.365,1.92),(4.385,2.30),
    (4.425,1.95),(4.445,2.28),(4.465,2.58),(4.485,2.12),
    # x > 5.6
    (5.82,4.07),(5.88,4.16),(5.88,4.05),(5.94,4.28),(6.00,4.25),(6.08,4.36),(6.08,4.10),(6.08,3.96),
    (6.18,4.12),(6.17,4.00),(6.20,3.95),(6.29,4.18),(6.39,4.24),(6.47,4.31),(6.45,4.05),(6.49,3.94),
    (6.63,4.31),(6.73,3.94),(6.77,3.82),(6.53,3.78),(7.04,4.36),(7.08,4.29),(7.12,4.26),(7.20,4.18),
    (7.28,4.11),(7.32,4.42),(6.97,3.92),(6.98,3.87),(7.04,3.99),(7.09,3.99),(7.30,3.76),(7.52,3.65),
    (7.38,3.36),(7.81,2.86),(7.03,3.63),(7.06,3.63),(7.04,3.36),(6.99,3.51),(6.95,3.53),(6.90,3.50),
    (6.88,3.38),(6.80,3.26),(6.80,3.41),(6.78,3.65),(6.74,3.66),(6.71,3.53),(6.76,3.47),(6.65,3.31),
    (6.69,3.28),(6.61,3.50),(6.66,3.60),(6.61,3.65),(6.61,3.78),(6.63,3.81),(6.55,3.61),(6.49,3.62),
    (6.54,3.50),(6.48,3.45),(6.52,3.37),(6.54,3.32),(6.42,3.63),(6.41,3.50),(6.41,3.43),(6.42,3.37),
    (6.39,3.29),(6.35,3.76),(6.33,3.90),(6.37,3.88),(6.29,3.77),(6.23,3.78),(6.28,3.66),(6.32,3.61),
    (6.27,3.57),(6.28,3.49),(6.27,3.37),(6.33,3.47),(6.32,3.37),(6.35,3.27),(6.25,3.25),(6.19,3.33),
    (6.21,3.52),(6.18,3.65),(6.15,3.42),(6.13,3.61),(6.10,3.52),(6.11,3.82),(6.06,3.82),(6.07,3.70),
    (6.06,3.58),(6.09,3.29),(6.14,3.14),(6.10,3.17),(5.91,3.78),(5.85,3.77),(5.78,3.71),(5.72,3.74),
    (5.69,3.65),(5.83,3.65),(5.98,3.62),(5.89,3.58),(5.92,3.53),(5.66,3.46),(5.62,3.57),(5.74,3.50),
    (5.87,3.45),(5.94,3.39),(5.97,3.42),(6.00,3.41),(5.84,3.35),(5.64,3.33),(5.69,3.35),(5.78,3.29),
    (5.89,3.29),(5.99,3.31),(6.03,3.20),(5.76,3.16),(5.80,3.10),(5.69,3.14),(5.92,3.16),(5.99,3.16),
    (6.03,3.10),(5.85,3.04),(5.94,3.06),(5.64,3.02),(5.74,2.96),(5.82,2.92),(5.66,2.92),(5.89,2.88),
    (5.99,2.86),(6.06,2.88),(6.12,2.92),(6.18,2.98),(6.22,2.96),(6.26,2.98),(6.33,3.12),(6.31,2.98),
    (6.36,2.92),(6.40,2.86),(6.43,2.96),(6.47,2.96),(6.55,2.92),(6.56,3.00),(6.58,3.08),(6.63,3.10),
    (6.67,3.12),(6.72,3.08),(6.71,2.93),(6.65,2.98),(6.88,3.16),(6.94,3.05),(6.95,2.87),(7.01,2.79),
    (7.11,3.00),(7.13,3.06),(6.78,2.79),(6.77,2.67),(6.84,2.73),(6.89,2.73),(6.82,2.56),(6.84,2.44),
    (6.93,2.57),(6.66,2.72),(6.69,2.44),(6.65,2.56),(6.60,2.63),(6.54,2.81),(6.50,2.81),(6.53,2.59),
    (6.48,2.61),(6.43,2.76),(6.43,2.52),(6.38,2.69),(6.38,2.59),(6.37,2.51),(6.33,2.41),(6.30,2.76),
    (6.27,2.67),(6.28,2.59),(6.23,2.72),(6.20,2.44),(6.14,2.65),(6.10,2.41),(6.08,2.04),(6.13,2.10),
    (6.16,2.05),(6.20,2.14),(6.23,1.98),(6.27,2.27),(6.31,2.25),(6.36,2.23),(6.35,2.12),(6.35,2.01),
    (6.40,2.15),(6.45,2.21),(6.47,2.36),(6.48,2.31),(6.52,1.94),(6.58,1.59),(6.83,2.12),(6.99,2.24),
    (5.96,1.74),(5.79,1.78),(5.71,1.72),(5.78,1.90),(5.67,1.90),(5.64,1.86),(5.91,2.02),(5.95,2.15),
    (5.88,2.08),(5.84,2.11),(5.79,2.06),(5.82,2.27),(5.73,2.19),(5.68,2.10),(5.64,2.12),(6.02,2.29),
    (6.00,2.23),(5.97,2.36),(5.94,2.34),(5.91,2.42),(5.92,2.49),(5.96,2.57),(6.00,2.67),(6.05,2.55),
    (5.78,2.43),(5.76,2.35),(5.72,2.31),(5.69,2.37),(5.64,2.43),(5.64,2.25),(5.67,2.61),(5.73,2.59),
    (5.78,2.59),(5.84,2.63),(5.88,2.55),(5.82,2.72),(5.74,2.72),(5.67,2.74),(5.65,2.82),(5.72,2.80),
    (5.77,2.82),(5.84,2.80),(5.90,2.80),(5.97,2.72),(6.08,2.80),(6.25,2.90),(6.14,2.84),(6.18,2.86),
    (5.70,3.25),(5.75,3.05),(5.80,3.20),(5.86,3.15),(5.90,2.98),(5.95,3.25),(5.78,2.88),(5.70,2.85),
    (5.65,3.10),(5.87,3.35),(5.98,2.95),(6.03,3.00),(5.74,3.38),(5.82,3.45),(5.92,3.40),(5.66,2.70),
    (5.76,2.65),(5.85,2.70),(5.94,2.62),(6.02,2.75),
]

# ======================= Figure =======================
fig = plt.figure(figsize=(W / DPI, H / DPI), dpi=DPI)
fig.patch.set_facecolor('white')

SPINE_W = 1.8
TICK_LEN = 14.4
TICK_FS = 27.5


def px_axes(l, t, r, b):
    return [l / W, 1 - b / H, (r - l) / W, (b - t) / H]


def style(ax):
    for s in ('top', 'right'):
        ax.spines[s].set_visible(False)
    for s in ('left', 'bottom'):
        ax.spines[s].set_linewidth(SPINE_W)
    ax.tick_params(axis='both', which='major', direction='out', length=TICK_LEN,
                   width=SPINE_W, pad=14.5)
    ax.yaxis.set_minor_locator(NullLocator())
    ax.xaxis.set_minor_locator(NullLocator())
    ax.set_facecolor('none')


# ---------------- Panel A ----------------
axA = fig.add_axes(px_axes(356, 124, 2400, 768))
axA.set_yscale('log')
A_ylim = (0.2355, 7.345)
axA.set_xlim(-1.372, 1.0304)
axA.set_ylim(*A_ylim)
style(axA)
axA.set_xticks(obs_xticks)
axA.set_xticklabels(obs_xticklabels, fontsize=TICK_FS, fontweight='bold')
axA.set_yticks(obs_yticks)
axA.set_yticklabels(obs_yticklabels, fontsize=TICK_FS, fontweight='bold')
axA.yaxis.set_minor_locator(NullLocator())
axA.spines['left'].set_bounds(A_ylim[0], 5.0)

axA.scatter(obs_anomaly, obs_ratio, s=11.5 ** 2, c='black', edgecolors='none', zorder=3, clip_on=False)
axA.plot(obs_fit_anomaly, obs_fit_ratio, color='#0000ff', lw=2.0, zorder=4)

txt_kw = dict(fontsize=28, fontweight='bold', ha='left', va='baseline')
axA.text(-1.297, 4.62, "R2=0.5", **txt_kw)
axA.text(-1.297, 3.69, "from 1950: 0.62", **txt_kw)
axA.text(-1.297, 2.78, "from 1970: 0.76", **txt_kw)

# ---------------- Panel B ----------------
axB = fig.add_axes(px_axes(357, 1110, 2400, 1765))
axB.set_yscale('log')
B_ylim = (10 ** -3.303, 10 ** 4.714)
axB.set_xlim(-2.023, 8.187)
axB.set_ylim(*B_ylim)
style(axB)
axB.set_xticks(ens_xticks)
axB.set_xticklabels(ens_xticklabels, fontsize=TICK_FS, fontweight='bold')
axB.set_yticks(ens_yticks)
axB.set_yticklabels(ens_yticklabels, fontsize=TICK_FS, fontweight='bold')
axB.yaxis.set_minor_locator(NullLocator())
axB.spines['left'].set_bounds(B_ylim[0], 5000)
axB.spines['bottom'].set_bounds(-2.023, 8)

poly_x = np.concatenate([band_upper_anomaly, band_lower_anomaly[::-1]])
poly_y = np.concatenate([band_upper_ratio, band_lower_ratio[::-1]])
axB.fill(poly_x, poly_y, facecolor='#bebebe', edgecolor='none', zorder=1)
axB.plot(band_lower_anomaly, band_lower_ratio, color='black', lw=0.8, zorder=2)
axB.plot(band_upper_anomaly, band_upper_ratio, color='black', lw=2.2, zorder=2)

hist = np.array(hist_points)
fut = np.array(fut_points)
ring = dict(s=26, marker='o', facecolors='none', linewidths=2.2)
early = hist[:, 0] <= 1.3
axB.scatter(hist[early, 0], 10 ** hist[early, 1], edgecolors='black', zorder=3, **ring)
axB.scatter(fut[:, 0], 10 ** fut[:, 1], edgecolors='#ff0000', zorder=4, **ring)
axB.scatter(hist[~early, 0], 10 ** hist[~early, 1], edgecolors='black', zorder=5, **ring)

axB.text(-1.368, 3360, "R2=0.96", **txt_kw)

# ---------------- Figure texts ----------------
fig.text(1393 / W, 1 - 58 / H, "Observations (1930\u22122015)", ha='center', va='baseline',
         fontsize=34, fontweight='bold')
fig.text(1405 / W, 1 - 1056 / H, "Large Ensemble", ha='center', va='baseline',
         fontsize=34, fontweight='bold')
fig.text(193 / W, 1 - 97 / H, "A", ha='left', va='baseline', fontsize=76)
fig.text(196 / W, 1 - 1082 / H, "B", ha='left', va='baseline', fontsize=76)
fig.text(237 / W, 1 - 443 / H, "Ratio", rotation=90, rotation_mode='anchor',
         ha='center', va='baseline', fontsize=37)
fig.text(237 / W, 1 - 1438 / H, "Ratio", rotation=90, rotation_mode='anchor',
         ha='center', va='baseline', fontsize=37)
fig.text(1378 / W, 1 - 910 / H, "T anomalies wrt 1930\u22121949", ha='center', va='baseline',
         fontsize=37)
fig.text(1401 / W, 1 - 1953 / H, "US average temperature anomalies", ha='center', va='baseline',
         fontsize=74)
fig.text(1401 / W, 1 - 2068 / H, "(vs 1930-1949)", ha='center', va='baseline', fontsize=74)
fig.text(120 / W, 1 - 1032 / H, "Ratio of daily record highs to record lows", rotation=90,
         rotation_mode='anchor', ha='center', va='baseline', fontsize=74)

fig.savefig("out.png", dpi=DPI, facecolor='white')
